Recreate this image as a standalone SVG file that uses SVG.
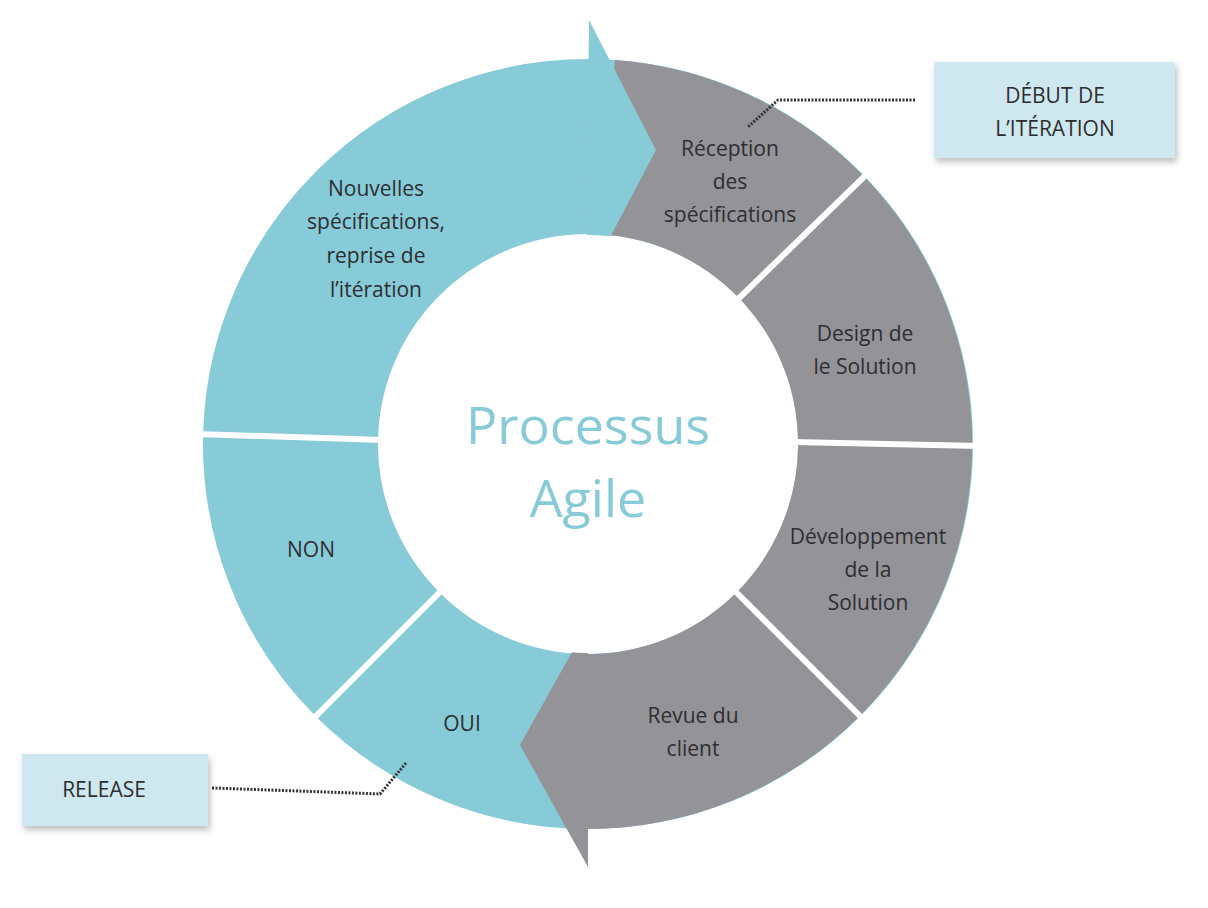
<svg xmlns="http://www.w3.org/2000/svg" width="1208" height="908" viewBox="0 0 1208 908">
<defs>
<style>
.t{font-family:"Open Sans","Liberation Sans",sans-serif;font-size:21px;fill:#2e2e30;text-anchor:middle}
.sep{stroke:#fff;stroke-width:6}
.dot{fill:none;stroke:#333;stroke-width:3;stroke-dasharray:2 1.5}
.box{fill:#cfe8ef;filter:url(#sh)}
</style>
<filter id="sh" x="-20%" y="-20%" width="140%" height="150%"><feDropShadow dx="2" dy="4" stdDeviation="3" flood-color="#000" flood-opacity="0.25"/></filter>
</defs>
<rect width="1208" height="908" fill="#fff"/>
<g id="ring">
<circle cx="588" cy="444" r="297.5" fill="none" stroke="#87cad8" stroke-width="175"/>
<path d="M614.9 60 A385 385 0 0 1 588 829 L588 654 A210 210 0 0 0 602.6 234.5 Z" fill="#939398"/>
<polygon points="590,620 520,745 588,867 588,620" fill="#939398"/>
<polygon points="589,20 656,150 586,283" fill="#87cad8"/>
</g>
<g id="separators">
<line class="sep" x1="735" y1="302" x2="870" y2="171"/>
<line class="sep" x1="793" y1="442" x2="980" y2="446"/>
<line class="sep" x1="733" y1="589" x2="865" y2="721"/>
<line class="sep" x1="443" y1="589" x2="311" y2="721"/>
<line class="sep" x1="383" y1="440" x2="196" y2="434"/>
</g>
<circle cx="588" cy="444" r="209" fill="#fff"/>
<g id="center"><text x="588" y="444" font-family="Open Sans, Liberation Sans, sans-serif" font-size="52" fill="#87cad8" text-anchor="middle">Processus</text><text x="588" y="517" font-family="Open Sans, Liberation Sans, sans-serif" font-size="52" fill="#87cad8" text-anchor="middle">Agile</text></g>
<g id="reception"><text class="t" x="730" y="156">Réception</text><text class="t" x="730" y="189">des</text><text class="t" x="730" y="222">spécifications</text></g>
<g id="design"><text class="t" x="865" y="341">Design de</text><text class="t" x="865" y="374">le Solution</text></g>
<g id="dev"><text class="t" x="868" y="544">Développement</text><text class="t" x="868" y="577">de la</text><text class="t" x="868" y="610">Solution</text></g>
<g id="revue"><text class="t" x="693" y="723">Revue du</text><text class="t" x="693" y="756">client</text></g>
<g id="oui"><text class="t" x="462" y="731">OUI</text></g>
<g id="non"><text class="t" x="311" y="557">NON</text></g>
<g id="nouvelles"><text class="t" x="376" y="196">Nouvelles</text><text class="t" x="376" y="229">spécifications,</text><text class="t" x="376" y="263">reprise de</text><text class="t" x="376" y="297">l’itération</text></g>
<g id="connectors">
<polyline class="dot" points="915,100 778,100 748,127"/>
<polyline class="dot" points="212,788 380,794 406,763"/>
</g>
<g id="debut"><rect class="box" x="934" y="62" width="241" height="96"/><text class="t" x="1055" y="103">DÉBUT DE</text><text class="t" x="1055" y="136">L’ITÉRATION</text></g>
<g id="release"><rect class="box" x="22" y="754" width="186" height="72"/><text class="t" x="104" y="797">RELEASE</text></g>
</svg>
